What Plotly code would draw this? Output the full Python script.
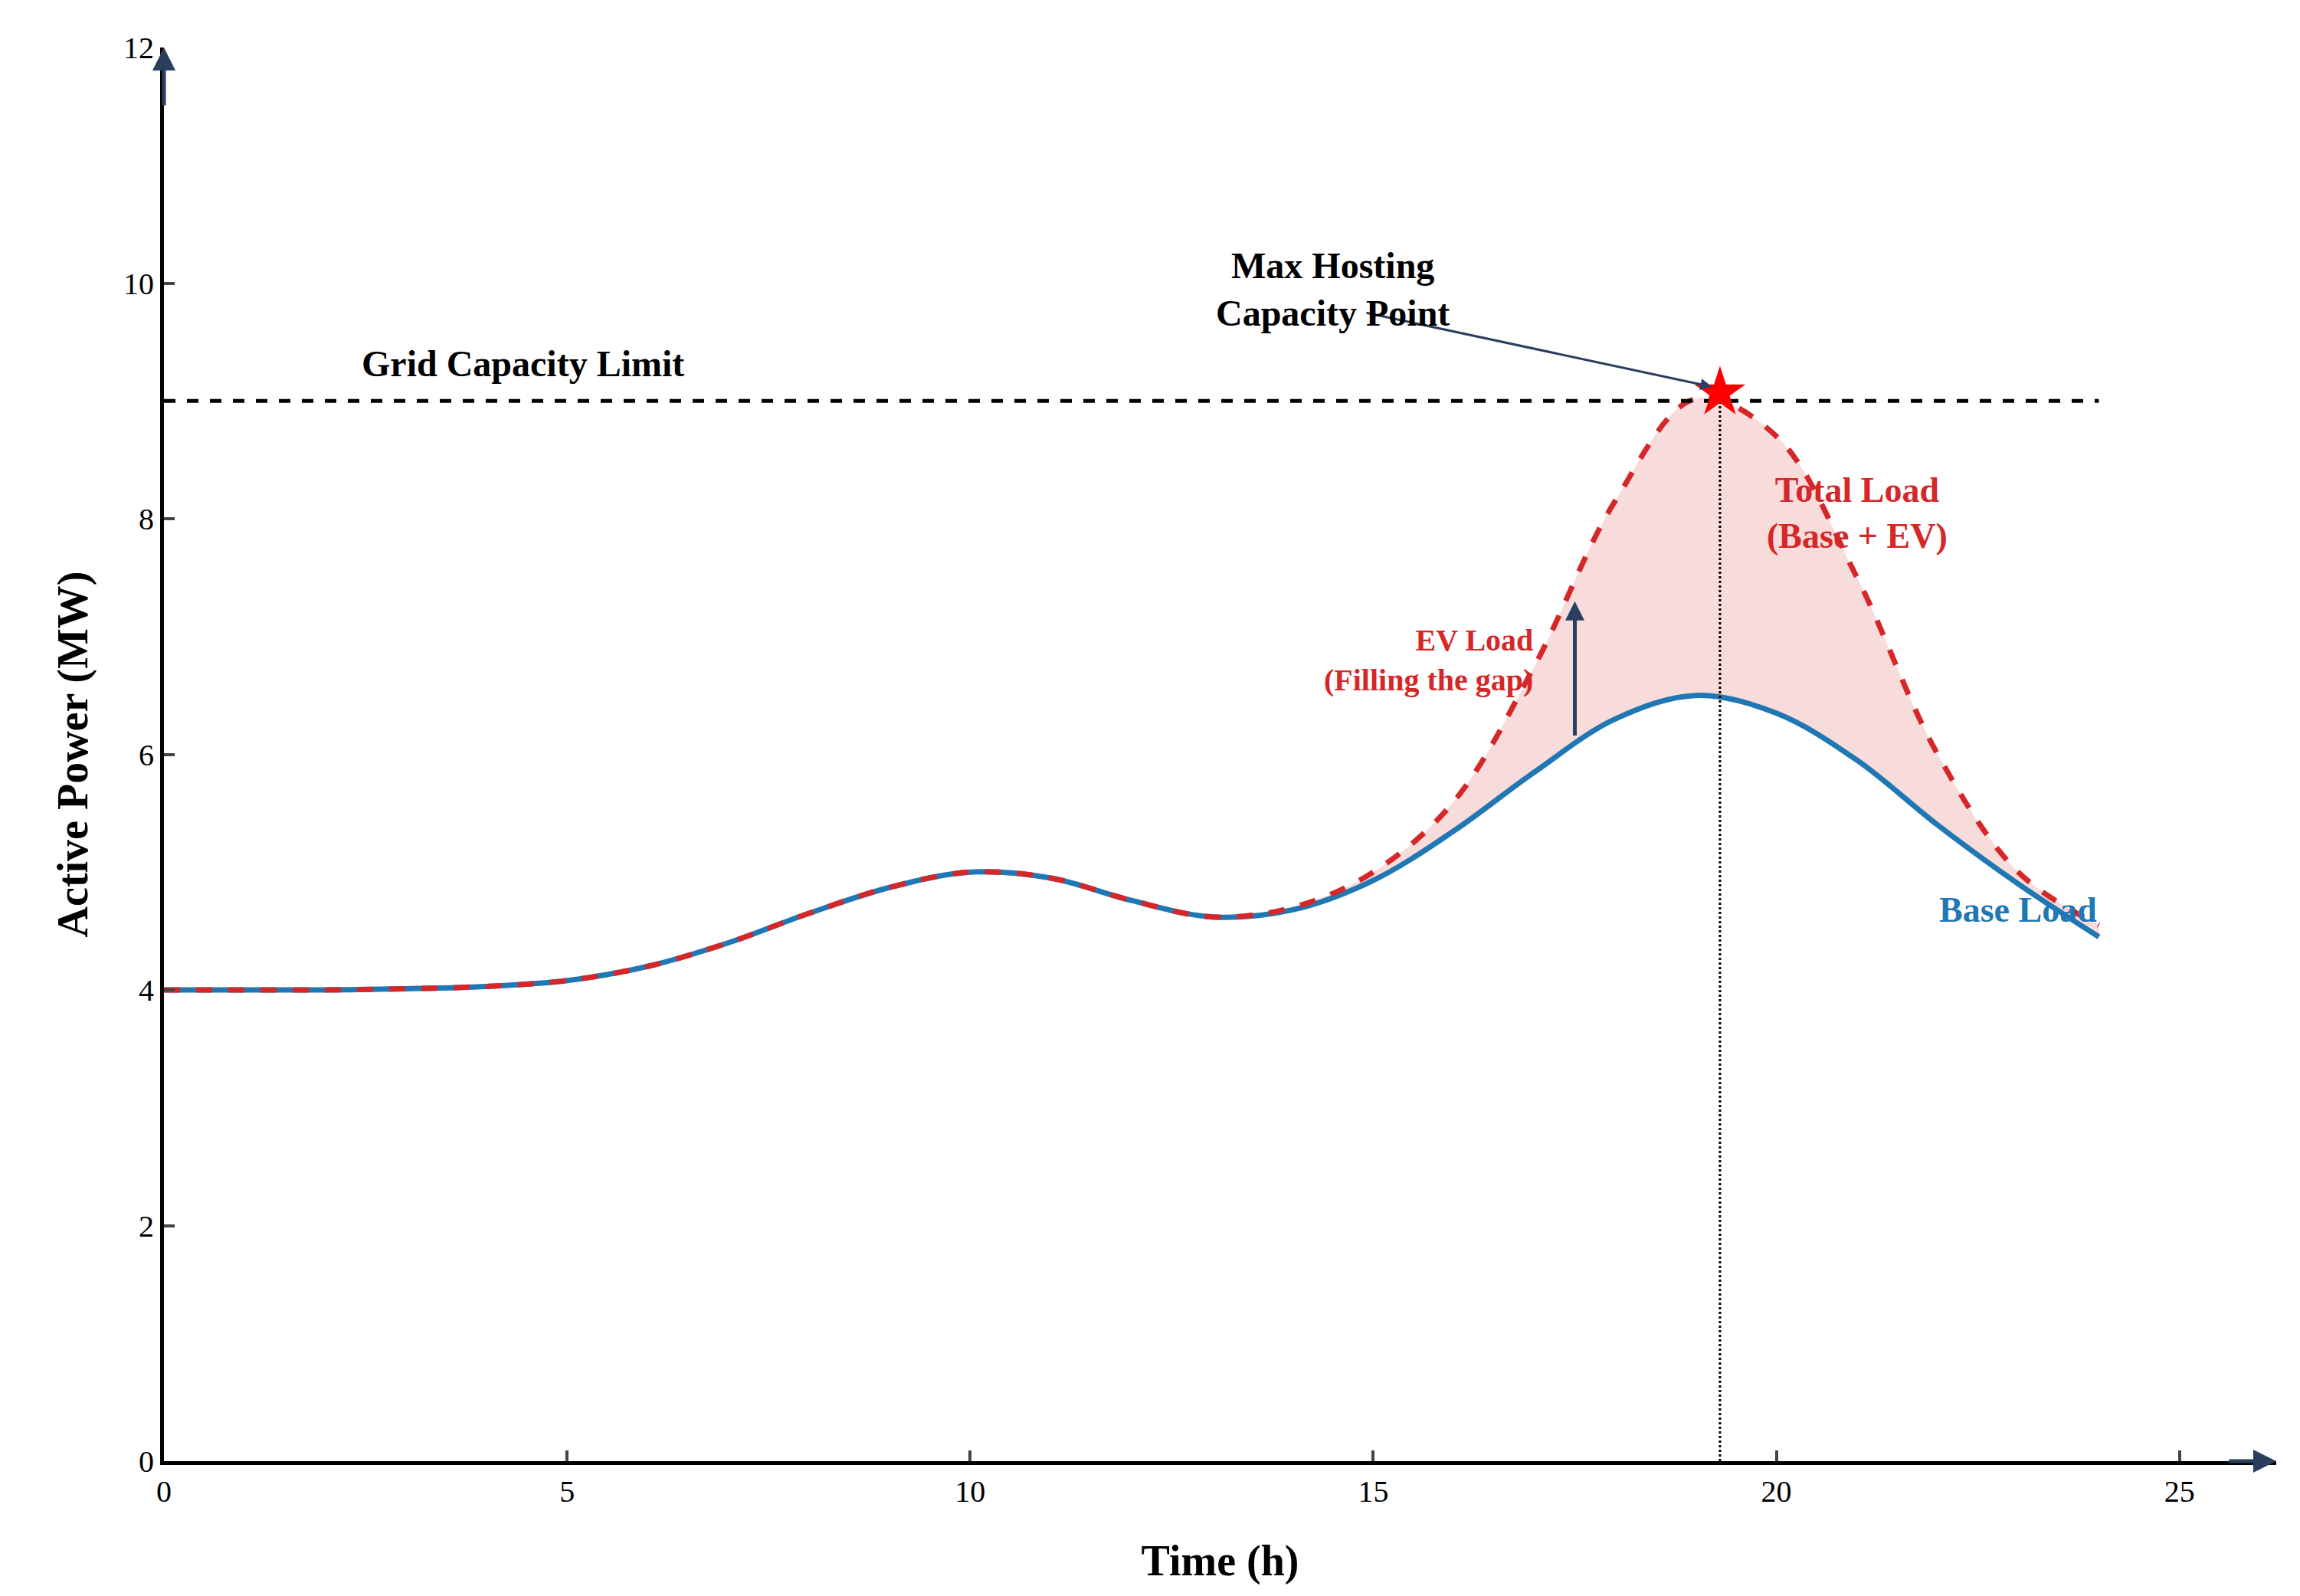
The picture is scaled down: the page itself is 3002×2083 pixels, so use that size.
import plotly.graph_objects as go

hours = [0, 1, 2, 3, 4, 5, 6, 7, 8, 9, 10, 11, 12, 13, 14, 15, 16, 17, 18, 19, 20, 21, 22, 23, 24]
base_load = [4.0, 4.0, 4.0, 4.01, 4.03, 4.08, 4.2, 4.4, 4.65, 4.87, 5.0, 4.95, 4.76, 4.62, 4.68,
             4.93, 5.35, 5.85, 6.3, 6.5, 6.35, 5.95, 5.4, 4.9, 4.45]
total_load = [4.0, 4.0, 4.0, 4.01, 4.03, 4.08, 4.2, 4.4, 4.65, 4.87, 5.0, 4.95, 4.76, 4.62, 4.7,
              5.0, 5.6, 6.75, 8.15, 9.02, 8.7, 7.5, 6.0, 5.0, 4.55]
grid_limit = 9.0
t_limit = 19.3
peak_value = 9.07

font = "Liberation Serif"
fig = go.Figure()

fig.add_trace(go.Scatter(x=hours, y=base_load, mode="lines", line=dict(color="#1f77b4", width=7, shape="spline"),
                         showlegend=False))
fig.add_trace(go.Scatter(x=hours, y=total_load, mode="lines", fill="tonexty", fillcolor="rgba(214,39,40,0.17)",
                         line=dict(color="#d62728", width=7, dash="dash", shape="spline"), showlegend=False))
fig.add_trace(go.Scatter(x=[0, 24], y=[grid_limit, grid_limit], mode="lines",
                         line=dict(color="black", width=5, dash="dash"), showlegend=False))
fig.add_trace(go.Scatter(x=[t_limit, t_limit], y=[0, grid_limit], mode="lines",
                         line=dict(color="black", width=3, dash="dot"), showlegend=False))
fig.add_trace(go.Scatter(x=[t_limit], y=[peak_value], mode="markers",
                         marker=dict(symbol="star", size=50, color="red"), showlegend=False))

ann_font = dict(family=font, size=48, color="black")
red_font = dict(family=font, size=46, color="#d62728")
blue_font = dict(family=font, size=46, color="#1f77b4")
anns = [
    dict(x=4.45, y=9.32, text="<b>Grid Capacity Limit</b>", showarrow=False, font=ann_font),
    dict(x=t_limit - 0.1, y=peak_value + 0.05, ax=14.9, ay=9.75, axref="x", ayref="y",
         text="", showarrow=True, arrowhead=2, arrowsize=1, arrowwidth=3),
    dict(x=14.5, y=9.95, text="<b>Max Hosting<br>Capacity Point</b>", showarrow=False, font=ann_font),
    dict(x=21.0, y=8.05, text="<b>Total Load<br>(Base + EV)</b>", showarrow=False, font=red_font),
    dict(x=17.0, y=6.8, text="<b>EV Load<br>(Filling the gap)</b>", showarrow=False, xanchor="right",
         align="right", font=dict(family=font, size=40, color="#d62728")),
    dict(x=17.5, y=7.3, ax=17.5, ay=6.15, axref="x", ayref="y", text="", showarrow=True,
         arrowhead=2, arrowsize=1, arrowwidth=5),
    dict(x=23.0, y=4.68, text="<b>Base Load</b>", showarrow=False, font=blue_font),
    dict(x=t_limit, y=-0.7, text="<b><i>t_limit</i></b>", showarrow=False, font=ann_font),
    dict(x=26.2, y=0, ax=25.6, ay=0, axref="x", ayref="y", text="", showarrow=True,
         arrowhead=2, arrowsize=1.2, arrowwidth=5),
    dict(x=0, y=12.0, ax=0, ay=11.5, axref="x", ayref="y", text="", showarrow=True,
         arrowhead=2, arrowsize=1.2, arrowwidth=5),
]
fig.update_layout(annotations=anns)

fig.update_layout(
    width=3002, height=2083, plot_bgcolor="white", paper_bgcolor="white",
    margin=dict(l=206, r=39, t=54, b=184),
    xaxis=dict(range=[0, 26.2], tickvals=[0, 5, 10, 15, 20, 25], ticks="inside", ticklen=14, tickwidth=4,
               showgrid=False, zeroline=False, showline=True, linecolor="black", linewidth=5,
               tickfont=dict(family=font, size=40, color="black"),
               title=dict(text="<b>Time (h)</b>", font=dict(family=font, size=56, color="black"), standoff=50)),
    yaxis=dict(range=[0, 12.0], tickvals=[0, 2, 4, 6, 8, 10, 12], ticks="inside", ticklen=14, tickwidth=4,
               showgrid=False, zeroline=False, showline=True, linecolor="black", linewidth=5,
               tickfont=dict(family=font, size=40, color="black"),
               title=dict(text="<b>Active Power (MW)</b>", font=dict(family=font, size=56, color="black"),
                          standoff=30)),
)

fig.write_html("out.html")
